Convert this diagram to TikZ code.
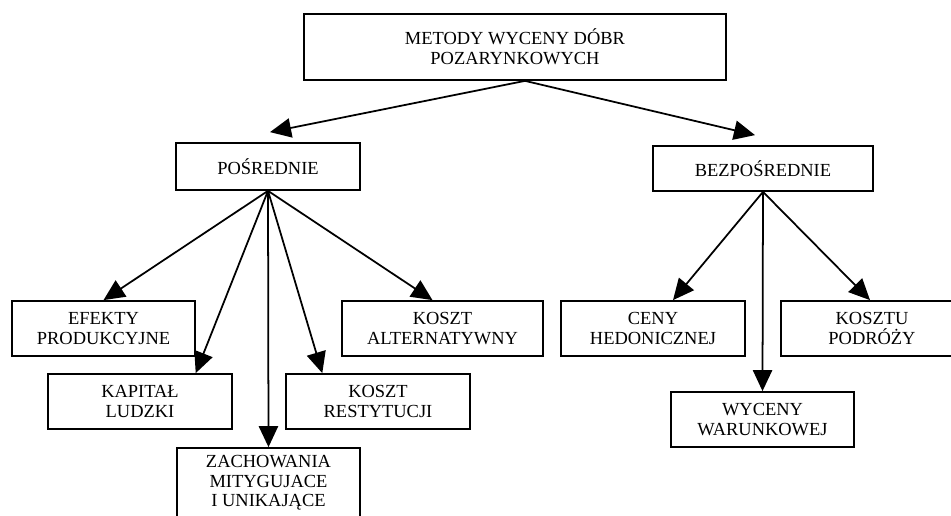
\documentclass[tikz,border=0pt]{standalone}
\usepackage{fontspec}
\setmainfont{Liberation Serif}
\usetikzlibrary{positioning, arrows.meta, calc}
\tikzset{
    >={Stealth[inset=0pt, length=12pt, width=11pt]}, % filled triangle heads
    every node/.style={font=\fontsize{10.5}{11.2}\selectfont, align=center},
    box/.style={draw, line width=1pt, minimum width=3.68cm, minimum height=1.1cm, inner sep=0pt},
    arrow/.style={->, line width=1pt},
}

\begin{document}
\begin{tikzpicture}[x=0.02cm, y=-0.02cm]
    \clip (0,0) rectangle (951,516);

    % top level
    \node[box, minimum width=8.44cm, minimum height=1.32cm] (metody) at (515,47) {METODY WYCENY DÓBR\\POZARYNKOWYCH};

    % second level
    \node[box, minimum height=0.94cm] (posr) at (268,166.5) {POŚREDNIE};
    \node[box, minimum width=4.4cm, minimum height=0.9cm] (bezp) at (763,168.5) {BEZPOŚREDNIE};

    % methods - indirect
    \node[box, minimum width=3.66cm] (efekty) at (103.5,328.5) {EFEKTY\\PRODUKCYJNE};
    \node[box] (kapital) at (140,401.5) {KAPITAŁ\\LUDZKI};
    \node[box, minimum width=3.66cm, minimum height=1.4cm] (zach) at (268.5,483) {ZACHOWANIA\\MITYGUJACE\\I UNIKAJĄCE};
    \node[box] (rest) at (378,401.5) {KOSZT\\RESTYTUCJI};
    \node[box, minimum width=4.02cm] (alt) at (442.5,328.5) {KOSZT\\ALTERNATYWNY};

    % methods - direct
    \node[box] (ceny) at (653,328.5) {CENY\\HEDONICZNEJ};
    \node[box, minimum width=3.64cm] (podroz) at (872,328.5) {KOSZTU\\PODRÓŻY};
    \node[box, minimum width=3.66cm] (warunk) at (762.5,419.5) {WYCENY\\WARUNKOWEJ};

    \draw[arrow] ($(metody.south)+(10,0)$) -- ($(posr.north)+(2,-10)$);
    \draw[arrow] ($(metody.south)+(10,0)$) -- ($(bezp.north)+(-8,-10)$);

    \draw[arrow] (posr.south) -- (efekty.north);
    \draw[arrow] (posr.south) -- ($(kapital.north)!0.6!(kapital.north east)$);
    \draw[arrow] (posr.south) -- (zach.north);
    \draw[arrow] (posr.south) -- ($(rest.north)!0.6!(rest.north west)$);
    \draw[arrow] (posr.south) -- ($(alt.north)+(-10,0)$);

    \draw[arrow] (bezp.south) -- ($(ceny.north)+(20,0)$);
    \draw[arrow] (bezp.south) -- (warunk.north);
    \draw[arrow] (bezp.south) -- ($(podroz.north)+(-2,0)$);
\end{tikzpicture}
\end{document}
